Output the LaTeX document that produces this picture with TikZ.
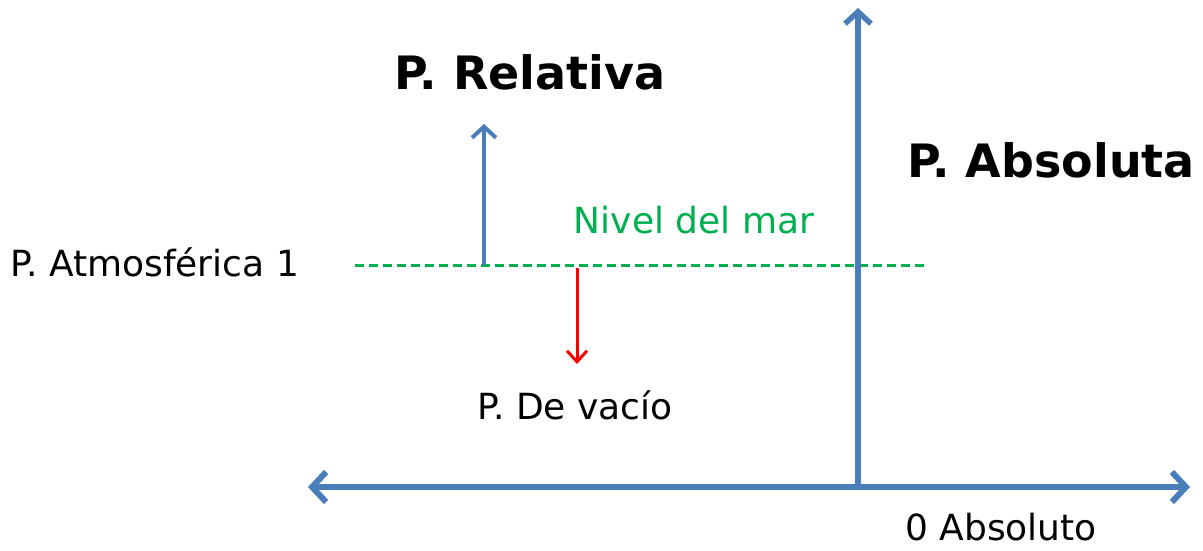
\documentclass[tikz,border=0pt]{standalone}
\usepackage{fontspec}
\setmainfont{DejaVu Sans}
\usetikzlibrary{arrows.meta}
\definecolor{axblue}{RGB}{74,126,187}
\definecolor{lvgreen}{RGB}{0,176,80}
\definecolor{vacred}{RGB}{255,0,0}
\tikzset{
  axis/.style={draw=axblue, line width=6pt, {Straight Barb[length=14pt,width=30pt,line width=6pt]}-{Straight Barb[length=14pt,width=30pt,line width=6pt]}},
  vaxis/.style={draw=axblue, line width=5.5pt, -{Straight Barb[length=12pt,width=26pt,line width=5.5pt]}},
  relarrow/.style={draw=axblue, line width=4pt, -{Straight Barb[length=11pt,width=24pt,line width=4pt]}},
  vacarrow/.style={draw=vacred, line width=3pt, -{Straight Barb[length=11pt,width=20pt,line width=3pt]}},
  sealevel/.style={draw=lvgreen, line width=3pt, dash pattern=on 9pt off 5pt},
  big/.style={font=\fontsize{46}{54}\selectfont\bfseries, inner sep=0pt},
  lbl/.style={font=\fontsize{36}{42}\selectfont, inner sep=0pt},
}
\begin{document}
\begin{tikzpicture}[x=1pt,y=-1pt]
\useasboundingbox (0,0) rectangle (1203,550);
\fill[white] (0,0) rectangle (1203,550);
% coordinates
\coordinate (hl) at (308,487);
\coordinate (hr) at (1190,487);
\coordinate (o) at (858,487);
\coordinate (vt) at (858,8);
\coordinate (sl) at (355,265);
\coordinate (sr) at (925,265);
\coordinate (rb) at (484,265);
\coordinate (rt) at (484,124);
\coordinate (vb) at (577,268);
\coordinate (ve) at (577,364);
% lines
\draw[sealevel] (sl) -- (sr);
\draw[axis] (hl) -- (hr);
\draw[vaxis] (o) -- (vt);
\draw[relarrow] (rb) -- (rt);
\draw[vacarrow] (vb) -- (ve);
% labels
\node[big] (rel) at (530,72) {P. Relativa};
\node[big] (abs) at (1051,160) {P. Absoluta};
\node[lbl, text=lvgreen] (niv) at (694,220) {Nivel del mar};
\node[lbl, anchor=west] (atm) at (10,262) {P. Atmosférica 1};
\node[lbl] (vac) at (575,405) {P. De vacío};
\node[lbl] (cero) at (1001,527) {0 Absoluto};
\end{tikzpicture}
\end{document}
